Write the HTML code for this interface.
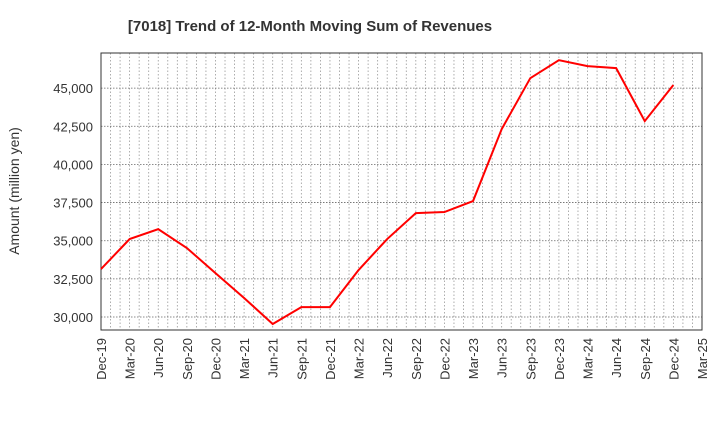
<!DOCTYPE html>
<html><head><meta charset="utf-8"><style>
body{margin:0;background:#fff;font-family:"Liberation Sans",sans-serif}
</style></head><body>
<svg id="c" width="720" height="440" xmlns="http://www.w3.org/2000/svg">
<text x="310" y="31" text-anchor="middle" font-size="15" font-weight="bold" fill="#333">[7018]  Trend of 12-Month Moving Sum of Revenues</text>
<text transform="translate(19,191) rotate(-90)" text-anchor="middle" font-size="14" fill="#333">Amount (million yen)</text>
<g id="grid"></g><g id="axes"></g><g id="marks"></g>
</svg>
<script>
const categories=["Dec-19","Mar-20","Jun-20","Sep-20","Dec-20","Mar-21","Jun-21","Sep-21","Dec-21","Mar-22","Jun-22","Sep-22","Dec-22","Mar-23","Jun-23","Sep-23","Dec-23","Mar-24","Jun-24","Sep-24","Dec-24","Mar-25"];
const revenues=[33140,35110,35760,34520,32880,31250,29540,30650,30650,33080,35110,36810,36880,37600,42310,45650,46830,46440,46310,42840,45200];
const yTicks=[30000,32500,35000,37500,40000,42500,45000];
const yTickLabels=["30,000","32,500","35,000","37,500","40,000","42,500","45,000"];
const L=101,R=702,T=53,B=330,yMin=29150,yMax=47300;
const NS="http://www.w3.org/2000/svg";
const xs=i=>L+(R-L)*i/(categories.length-1);
const ys=v=>B-(v-yMin)/(yMax-yMin)*(B-T);
function mk(p,t,a){const e=document.createElementNS(NS,t);for(const k in a)e.setAttribute(k,a[k]);document.getElementById(p).appendChild(e);return e;}
for(let m=1;m<(categories.length-1)*3;m++){const x=L+(R-L)*m/((categories.length-1)*3);
const g=mk('grid','line',{x1:x,x2:x,y1:T,y2:B,stroke:'#999','stroke-dasharray':'1.5,2','stroke-width':0.8});
}
yTicks.forEach((v,i)=>{const y=ys(v);
const g=mk('grid','line',{x1:L,x2:R,y1:y,y2:y,stroke:'#666','stroke-dasharray':'1.5,1.5','stroke-width':0.8});

const t=mk('axes','text',{x:L-8,y:y+5,'text-anchor':'end','font-size':13,fill:'#333'});t.textContent=yTickLabels[i];
});
categories.forEach((c,i)=>{const x=xs(i);
const t=mk('axes','text',{transform:`translate(${x+5},${B+8}) rotate(-90)`,'text-anchor':'end','font-size':13,fill:'#333'});t.textContent=c;
});
const fr=mk('axes','rect',{x:L,y:T,width:R-L,height:B-T,fill:'none',stroke:'#333','stroke-width':1});

const ln=mk('marks','polyline',{points:revenues.map((v,i)=>xs(i)+','+ys(v)).join(' '),fill:'none',stroke:'#ff0000','stroke-width':2});

</script>
</body></html>
